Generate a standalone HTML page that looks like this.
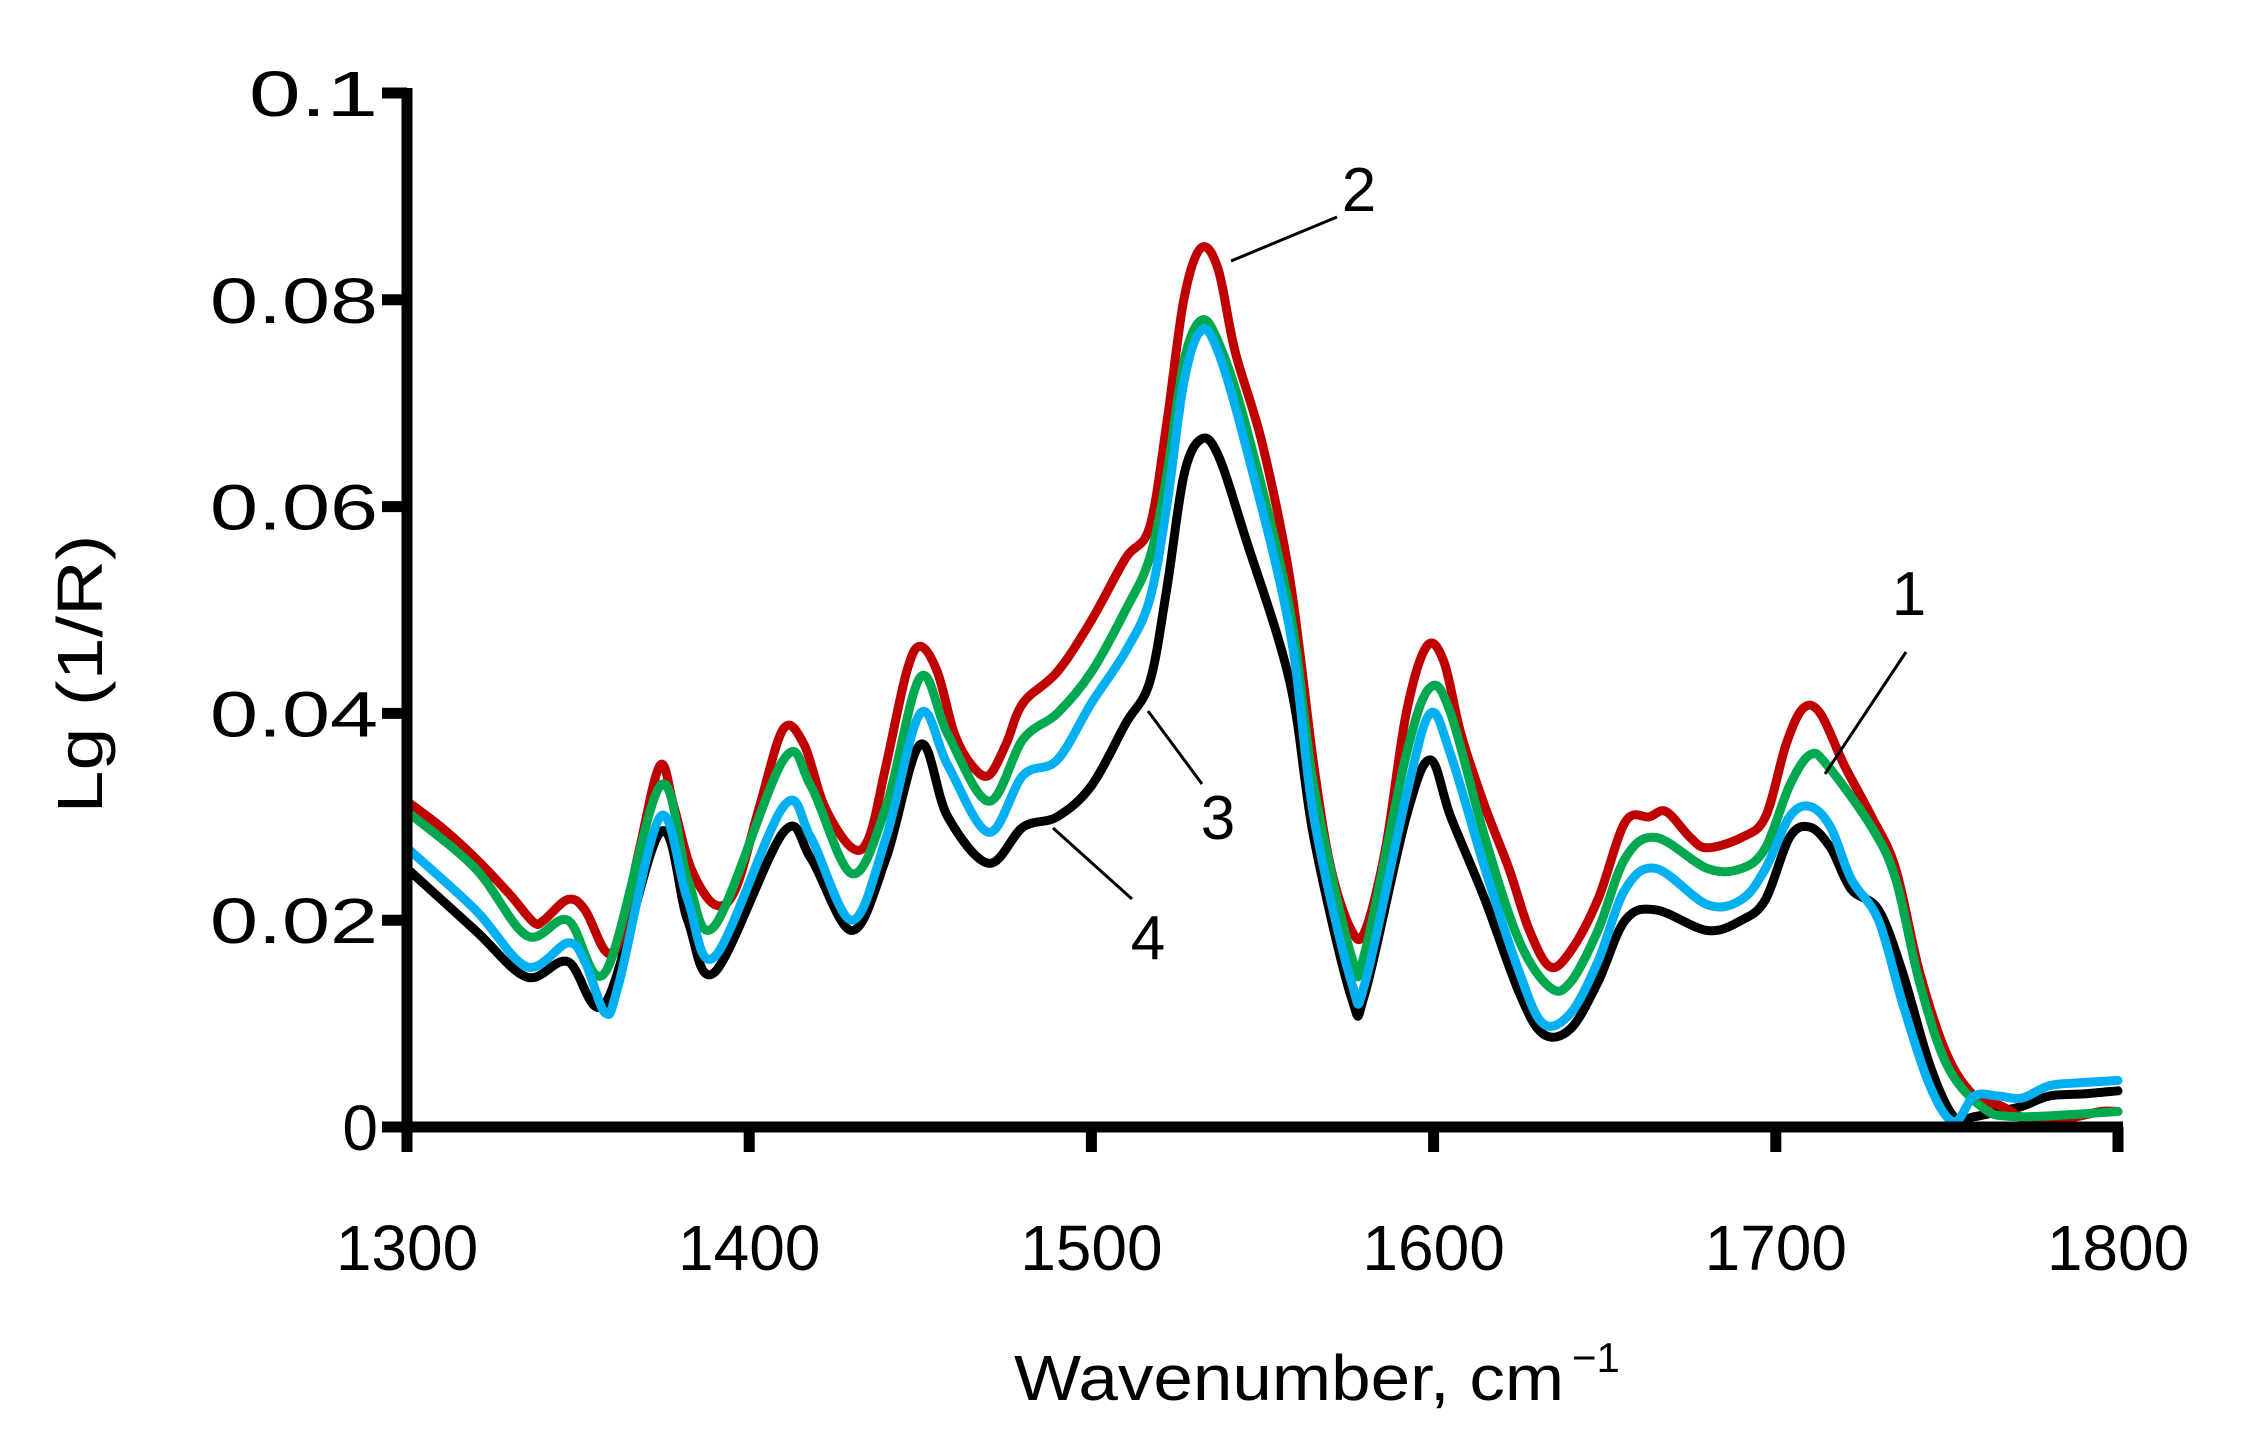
<!DOCTYPE html>
<html><head><meta charset="utf-8"><style>
html,body{margin:0;padding:0;background:#fff;}
svg{display:block;}
text{font-family:"Liberation Sans",sans-serif;fill:#000;}
</style></head><body>
<svg id="s" width="2265" height="1441" viewBox="0 0 2265 1441" xmlns="http://www.w3.org/2000/svg">
<g id="curves" fill="none" stroke-width="9" stroke-linejoin="round" stroke-linecap="round"></g>
<g stroke="#000" stroke-width="11" fill="none">
<line x1="407" y1="88" x2="407" y2="1133"/>
<line x1="401" y1="1127" x2="2123" y2="1127"/>
</g>
<g id="ticks" stroke="#000" stroke-width="11"></g>
<g font-size="64" text-anchor="end" id="ylab"></g>
<g font-size="64" text-anchor="middle" id="xlab"></g>
<text x="1014" y="1400" font-size="64" textLength="550" lengthAdjust="spacingAndGlyphs">Wavenumber, cm</text>
<text x="1572" y="1372" font-size="42">−1</text>
<text transform="translate(102,674) rotate(-90)" font-size="64" text-anchor="middle" textLength="279" lengthAdjust="spacingAndGlyphs">Lg (1/R)</text>
<g stroke="#000" stroke-width="3">
<line x1="1231" y1="261" x2="1337" y2="217"/>
<line x1="1906" y1="652" x2="1825" y2="774"/>
<line x1="1202" y1="784" x2="1148" y2="711"/>
<line x1="1132" y1="899" x2="1053" y2="828"/>
</g>
<g font-size="62" text-anchor="middle">
<text x="1359" y="211">2</text>
<text x="1909" y="615">1</text>
<text x="1218" y="839">3</text>
<text x="1148" y="959">4</text>
</g>
</svg>
<script>
var X=function(w){return 407+(w-1300)*3.422;};
var Y=function(v){return 1127-v*10340;};
var ns="http://www.w3.org/2000/svg";
function el(p,t,a){var e=document.createElementNS(ns,t);for(var k in a)e.setAttribute(k,a[k]);p.appendChild(e);return e;}
var tk=document.getElementById('ticks'),yl=document.getElementById('ylab'),xl=document.getElementById('xlab');
[[0,0],[0.02,168],[0.04,168],[0.06,168],[0.08,168],[0.1,129]].forEach(function(a){var v=a[0];var y=Y(v);el(tk,'line',{x1:382,y1:y,x2:407,y2:y});var at={x:378,y:y+23};if(a[1]){at.textLength=a[1];at.lengthAdjust="spacingAndGlyphs";}var t=el(yl,'text',at);t.textContent=v===0?'0':String(v);});
[1300,1400,1500,1600,1700,1800].forEach(function(w){var x=X(w);el(tk,'line',{x1:x,y1:1127,x2:x,y2:1152});var t=el(xl,'text',{x:x,y:1270});t.textContent=w;});
function P(s){return s.trim().split(/\s*,\s*/).map(function(q){var a=q.split(':');return [+a[0],+a[1]];});}
var black=P("1300:0.025,1320:0.019,1335:0.0145,1347:0.016,1358:0.012,1374:0.0285,1382:0.020,1390:0.015,1410:0.0285,1418:0.026,1430:0.019,1440:0.026,1450:0.037,1458:0.030,1470:0.0255,1480:0.029,1490:0.030,1500:0.033,1510:0.039,1517:0.043,1522:0.052,1527:0.063,1532:0.0665,1537:0.065,1545:0.057,1558:0.043,1565:0.028,1576:0.0125,1580:0.013,1592:0.030,1599:0.0355,1605:0.030,1615:0.022,1625:0.013,1632:0.009,1640:0.0095,1648:0.014,1656:0.020,1665:0.021,1680:0.019,1690:0.020,1697:0.022,1704:0.028,1710:0.029,1716:0.027,1722:0.023,1730:0.021,1737:0.015,1745:0.006,1752:0.001,1758:0.001,1765:0.0015,1772:0.002,1780:0.003,1790:0.0032,1800:0.0035");
var red=P("1300:0.0315,1310:0.029,1320:0.026,1330:0.0225,1337:0.0198,1340:0.020,1347:0.022,1352:0.021,1358:0.017,1362:0.018,1368:0.027,1374:0.035,1378:0.031,1383:0.025,1390:0.0215,1396:0.023,1403:0.031,1410:0.0385,1416:0.037,1422:0.031,1430:0.027,1435:0.028,1440:0.035,1446:0.044,1450:0.0465,1455:0.044,1460:0.038,1465:0.035,1470:0.034,1475:0.037,1480:0.041,1490:0.044,1500:0.049,1510:0.055,1517:0.058,1522:0.068,1527:0.080,1532:0.085,1537:0.083,1542:0.075,1550:0.066,1558:0.053,1565:0.035,1570:0.025,1576:0.019,1580:0.019,1586:0.027,1592:0.040,1598:0.0465,1603:0.045,1608:0.038,1615:0.031,1622:0.025,1628:0.019,1634:0.0155,1640:0.017,1648:0.022,1656:0.0295,1663:0.030,1668:0.0305,1675:0.028,1680:0.027,1690:0.028,1697:0.030,1703:0.037,1708:0.0405,1713:0.040,1720:0.035,1728:0.030,1735:0.025,1742:0.015,1750:0.007,1758:0.003,1766:0.002,1775:0.0005,1785:0.0008,1795:0.0015,1800:0.0015");
var green=P("1300:0.0305,1320:0.025,1335:0.0185,1347:0.020,1358:0.015,1374:0.033,1382:0.024,1390:0.0195,1410:0.0355,1418:0.033,1430:0.0245,1440:0.031,1450:0.0435,1458:0.038,1470:0.0315,1480:0.0375,1490:0.040,1500:0.044,1510:0.050,1517:0.055,1522:0.063,1527:0.074,1532:0.078,1537:0.076,1545:0.068,1558:0.050,1565:0.033,1576:0.0165,1580:0.017,1592:0.036,1599:0.0425,1605:0.040,1615:0.028,1625:0.018,1634:0.0135,1640:0.014,1648:0.019,1656:0.026,1665:0.028,1680:0.025,1690:0.025,1697:0.027,1704:0.033,1710:0.036,1715:0.035,1728:0.029,1735:0.024,1742:0.014,1750:0.006,1760:0.002,1770:0.001,1800:0.0015");
var blue=P("1300:0.027,1320:0.021,1335:0.0155,1347:0.0178,1352:0.016,1358:0.011,1362:0.014,1374:0.030,1382:0.022,1390:0.0165,1410:0.031,1418:0.028,1430:0.020,1440:0.028,1450:0.040,1458:0.035,1470:0.0285,1480:0.034,1490:0.0355,1500:0.041,1510:0.046,1517:0.051,1522:0.060,1527:0.072,1532:0.077,1537:0.075,1545:0.066,1558:0.048,1565:0.030,1576:0.014,1580:0.014,1592:0.032,1599:0.040,1605:0.036,1615:0.025,1625:0.015,1632:0.010,1640:0.011,1648:0.016,1656:0.023,1665:0.025,1680:0.0215,1690:0.022,1697:0.025,1704:0.030,1710:0.031,1716:0.029,1722:0.024,1730:0.020,1737:0.012,1745:0.004,1752:0.0005,1758:0.003,1765:0.003,1772:0.0028,1780:0.004,1790:0.0043,1800:0.0045");
function path(d){var p=d.map(function(q){return [X(q[0]),Y(q[1])];});var s="M"+p[0][0].toFixed(1)+","+p[0][1].toFixed(1);
for(var i=0;i<p.length-1;i++){var p0=p[Math.max(i-1,0)],p1=p[i],p2=p[i+1],p3=p[Math.min(i+2,p.length-1)];
var c1=[p1[0]+(p2[0]-p0[0])/6,p1[1]+(p2[1]-p0[1])/6],c2=[p2[0]-(p3[0]-p1[0])/6,p2[1]-(p3[1]-p1[1])/6];
s+="C"+c1[0].toFixed(1)+","+c1[1].toFixed(1)+" "+c2[0].toFixed(1)+","+c2[1].toFixed(1)+" "+p2[0].toFixed(1)+","+p2[1].toFixed(1);}return s;}
var g=document.getElementById('curves');
[[black,'#000000'],[red,'#c00000'],[green,'#00a84f'],[blue,'#00b0f0']].forEach(function(c){el(g,'path',{d:path(c[0]),stroke:c[1]});});
</script>
</body></html>
